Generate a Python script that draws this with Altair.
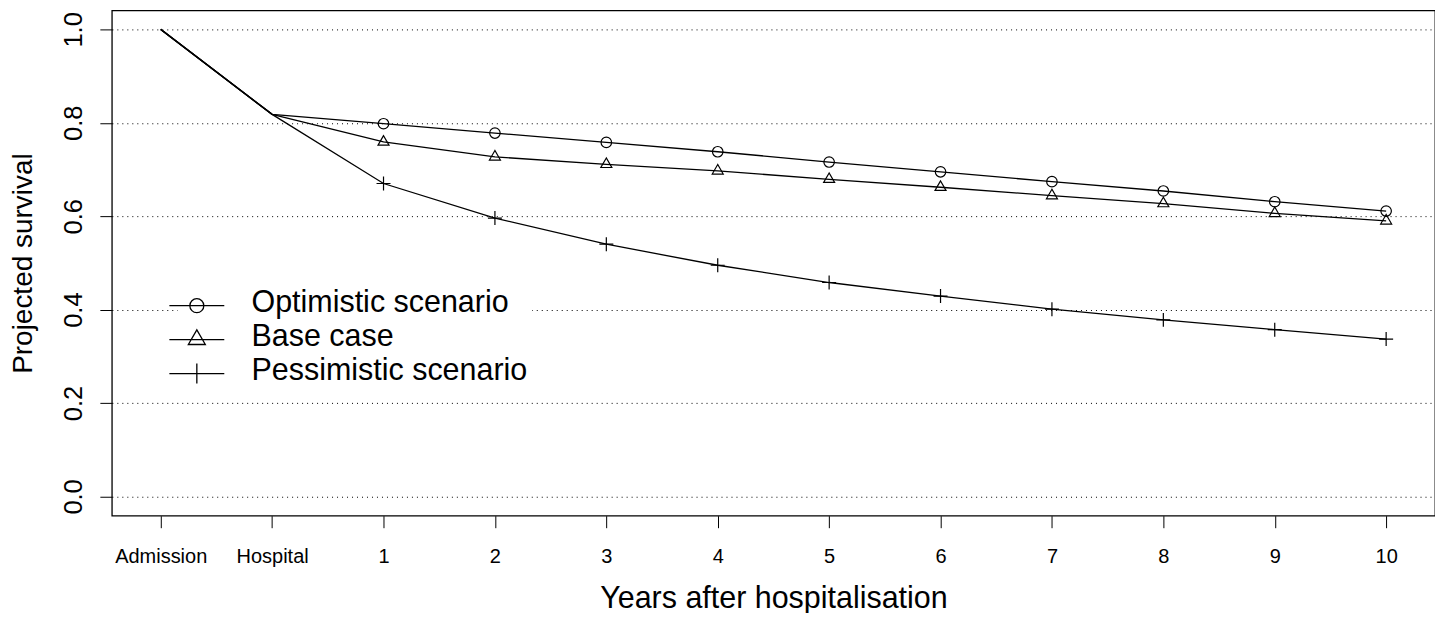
import altair as alt
import pandas as pd

# ---------------- data ----------------
x_labels = ["Admission", "Hospital", "1", "2", "3", "4", "5", "6", "7", "8", "9", "10"]
series_names = ["Optimistic scenario", "Base case", "Pessimistic scenario"]
optimistic = [1.0, 0.818, 0.798, 0.778, 0.758, 0.738, 0.716, 0.695, 0.674, 0.654, 0.631, 0.611]
base_case = [1.0, 0.818, 0.759, 0.727, 0.711, 0.697, 0.679, 0.662, 0.644, 0.627, 0.606, 0.590]
pessimistic = [1.0, 0.818, 0.670, 0.596, 0.540, 0.495, 0.458, 0.429, 0.401, 0.378, 0.357, 0.337]
y_ticks = [0.0, 0.2, 0.4, 0.6, 0.8, 1.0]

rows = []
for name, vals in zip(series_names, [optimistic, base_case, pessimistic]):
    for i, (lab, v) in enumerate(zip(x_labels, vals)):
        rows.append({"series": name, "stage": lab, "idx": i, "survival": v})
df = pd.DataFrame(rows)

FONT = "Liberation Sans"

# marker glyphs (R-like open circle, triangle, plus)
plot_paths = [
    "M0.75,0A0.75,0.75 0 1,1 -0.75,0A0.75,0.75 0 1,1 0.75,0",
    "M0,-0.907L-0.786,0.453L0.786,0.453Z",
    "M-1,0H1M0,-1V1",
]
# legend glyphs: line segment with marker
dy = -0.66
legend_paths = [
    f"M-2.75,{dy}H2.75M0.7,{dy}A0.7,0.7 0 1,1 -0.7,{dy}A0.7,0.7 0 1,1 0.7,{dy}",
    f"M-2.75,{dy}H2.75M0,{dy-0.98:.2f}L-0.85,{dy+0.49:.2f}L0.85,{dy+0.49:.2f}Z",
    f"M-2.75,{dy}H2.75M0,{dy-1:.2f}V{dy+1:.2f}",
]

x_enc = alt.X(
    "stage:N",
    sort=x_labels,
    scale=alt.Scale(type="point", padding=0.4386),
    axis=alt.Axis(
        title="Years after hospitalisation",
        titleFont=FONT, titleFontSize=30.5, titleFontWeight="normal", titleColor="black",
        titleY=92, titleBaseline="alphabetic",
        labelFont=FONT, labelFontSize=20, labelColor="black", labelAngle=0,
        labelPadding=35, labelBaseline="alphabetic", labelOverlap=False, labelFlush=False,
        labelBound=False,
        ticks=True, tickSize=12, tickColor="black", tickWidth=1,
        domain=False, grid=False,
    ),
)
y_enc = alt.Y(
    "survival:Q",
    scale=alt.Scale(domain=[-0.0413, 1.0406], nice=False, zero=False),
    axis=alt.Axis(
        values=y_ticks, format=".1f",
        title="Projected survival",
        titleFont=FONT, titleFontSize=28, titleFontWeight="normal", titleColor="black",
        titleX=-80, titleY=253, titleAngle=-90, titleAlign="center", titleBaseline="alphabetic",
        labelFont=FONT, labelFontSize=25.5, labelColor="black", labelAngle=-90,
        labelAlign="center", labelBaseline="alphabetic", labelPadding=18,
        labelOverlap=False, labelFlush=False, labelBound=False,
        ticks=True, tickSize=12, tickColor="black", tickWidth=1,
        domain=False,
        grid=True, gridColor="black", gridDash=[1, 4], gridWidth=1, gridOpacity=1,
    ),
)

lines = alt.Chart(df).mark_line(color="black", strokeWidth=1.3).encode(
    x=x_enc, y=y_enc, detail="series:N", order="idx:Q"
)

points = alt.Chart(df).transform_filter("datum.idx >= 2").mark_point(
    filled=False, color="black", strokeWidth=1.2, size=196, opacity=1
).encode(
    x=alt.X("stage:N", sort=x_labels),
    y="survival:Q",
    shape=alt.Shape("series:N", scale=alt.Scale(domain=series_names, range=plot_paths), legend=None),
)

legend_layer = alt.Chart(df).transform_filter("datum.idx >= 2").mark_point(
    filled=False, color="black", opacity=0, size=400
).encode(
    x=alt.X("stage:N", sort=x_labels),
    y="survival:Q",
    shape=alt.Shape(
        "series:N",
        scale=alt.Scale(domain=series_names, range=legend_paths),
        legend=alt.Legend(
            title=None, orient="none", legendX=65.85, legendY=283,
            fillColor="white", padding=4,
            symbolSize=400, symbolStrokeColor="black", symbolStrokeWidth=1.3,
            symbolFillColor="transparent", symbolOpacity=1,
            labelFont=FONT, labelFontSize=30.5, labelColor="black", labelLimit=1000,
            labelOffset=39.5, labelBaseline="alphabetic", rowPadding=3,
        ),
    ),
)

chart = (
    alt.layer(lines, points, legend_layer)
    .resolve_scale(shape="independent")
    .properties(
        width=1325, height=506,
        autosize=alt.AutoSizeParams(type="none"),
        padding={"left": 104, "top": 2, "right": 0, "bottom": 97},
        background="white",
    )
    .configure_view(stroke="black", strokeWidth=1.3)
)

chart.save("out.html", embed_options={"renderer": "svg", "actions": False})
